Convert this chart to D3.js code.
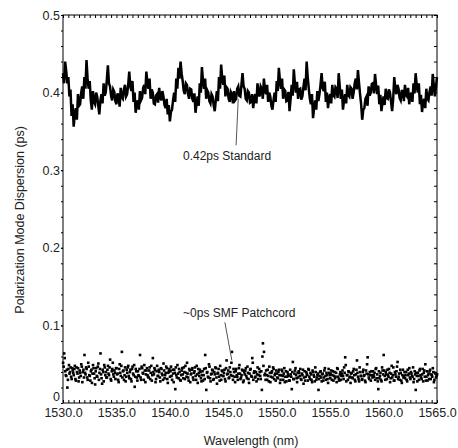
<!DOCTYPE html>
<html>
<head>
<meta charset="utf-8">
<script src="https://cdn.jsdelivr.net/npm/d3@7"></script>
<style>
  body { margin: 0; background: #fff; }
  .svg text { font-family: "Liberation Sans", Arial, sans-serif; fill: #222; }
  .axis path { display: none; }
  .axis line { stroke: #000; }
</style>
</head>
<body>
<div id="chart"></div>
<script>
// wavelength range and tick labels
const xDomain = [1530, 1565]
const yDomain = [0, 0.5]
const xMajorTicks = [1530, 1535, 1540, 1545, 1550, 1555, 1560, 1565]
const yMajorTicks = [0, 0.1, 0.2, 0.3, 0.4, 0.5]

// 0.42ps standard, sampled every 0.1 nm from 1530.0 nm
const standardStart = 1530, standardStep = 0.1
const standardPMD = [
  .425,.412,.440,.428,.412,.420,.395,.404,.370,.385,
  .356,.372,.380,.365,.398,.383,.385,.400,.408,.392,
  .420,.405,.442,.418,.405,.415,.390,.378,.402,.388,
  .385,.400,.395,.383,.372,.390,.398,.386,.412,.396,
  .400,.416,.435,.412,.408,.396,.390,.404,.401,.389,
  .385,.399,.395,.382,.406,.394,.392,.404,.410,.395,
  .398,.410,.427,.408,.402,.415,.388,.400,.374,.386,
  .390,.378,.402,.390,.393,.406,.410,.398,.427,.412,
  .405,.418,.392,.404,.400,.386,.385,.396,.398,.387,
  .406,.394,.390,.402,.395,.384,.380,.392,.372,.384,
  .363,.375,.378,.390,.400,.388,.418,.405,.432,.418,
  .440,.425,.415,.402,.398,.412,.410,.398,.392,.405,
  .404,.392,.388,.399,.374,.386,.395,.383,.412,.400,
  .433,.415,.405,.418,.392,.403,.400,.389,.386,.398,
  .395,.384,.376,.390,.402,.389,.420,.405,.436,.418,
  .410,.422,.395,.407,.405,.392,.388,.401,.398,.386,
  .402,.390,.392,.405,.408,.396,.395,.410,.425,.408,
  .405,.392,.390,.402,.400,.387,.388,.398,.380,.393,
  .398,.386,.412,.399,.395,.408,.405,.392,.418,.404,
  .398,.410,.388,.400,.395,.383,.378,.390,.400,.388,
  .415,.402,.432,.416,.405,.418,.392,.404,.402,.389,
  .390,.401,.376,.392,.410,.396,.430,.412,.400,.414,
  .392,.404,.405,.391,.395,.407,.418,.403,.440,.420,
  .405,.392,.385,.398,.367,.380,.390,.378,.402,.389,
  .398,.410,.425,.406,.402,.414,.388,.400,.380,.392,
  .398,.386,.410,.397,.395,.407,.405,.393,.425,.408,
  .392,.404,.378,.390,.398,.386,.410,.397,.395,.407,
  .405,.392,.400,.412,.418,.404,.429,.413,.398,.385,
  .365,.378,.380,.392,.395,.383,.408,.396,.400,.411,
  .412,.399,.424,.410,.398,.409,.385,.397,.376,.388,
  .395,.384,.405,.393,.392,.404,.400,.388,.376,.392,
  .420,.404,.398,.410,.405,.393,.390,.402,.402,.389,
  .410,.397,.395,.406,.385,.396,.400,.388,.412,.399,
  .425,.410,.400,.412,.385,.397,.375,.388,.392,.380,
  .405,.392,.390,.401,.408,.396,.424,.410,.395,.407,
  .420
]

// ~0ps SMF patchcord, two interleaved sweeps, each sampled every 0.1 nm
const patchStartA = 1530, patchStartB = 1530.05, patchStep = 0.1
const patchPMDA = [
  .052,.064,.041,.035,.020,.044,.038,.046,.031,.042,
  .036,.048,.029,.040,.045,.033,.039,.050,.027,.043,
  .062,.037,.044,.030,.047,.035,.041,.026,.049,.038,
  .024,.045,.034,.051,.039,.064,.032,.043,.028,.046,
  .040,.033,.048,.036,.056,.029,.044,.037,.042,.031,
  .045,.038,.027,.050,.035,.066,.041,.030,.046,.034,
  .039,.048,.032,.043,.028,.047,.036,.021,.044,.033,
  .041,.035,.062,.030,.045,.038,.049,.027,.042,.036,
  .033,.046,.039,.029,.058,.037,.043,.031,.048,.035,
  .040,.028,.044,.036,.051,.032,.039,.045,.026,.041,
  .034,.047,.030,.038,.043,.018,.036,.049,.032,.040,
  .029,.042,.037,.046,.031,.039,.052,.033,.044,.027,
  .038,.045,.030,.041,.035,.048,.026,.039,.043,.032,
  .036,.029,.044,.062,.017,.040,.033,.047,.028,.038,
  .042,.031,.037,.045,.025,.039,.034,.048,.030,.041,
  .035,.043,.028,.055,.038,.032,.046,.036,.066,.030,
  .040,.027,.044,.034,.038,.049,.031,.036,.042,.029,
  .037,.045,.032,.039,.026,.043,.035,.058,.030,.041,
  .034,.028,.046,.036,.040,.031,.017,.077,.066,.038,
  .042,.030,.035,.047,.027,.039,.033,.044,.036,.029,
  .038,.032,.043,.026,.036,.041,.030,.045,.034,.028,
  .040,.035,.029,.037,.018,.053,.031,.042,.036,.027,
  .033,.039,.044,.030,.036,.025,.041,.034,.038,.029,
  .043,.031,.037,.027,.040,.034,.046,.030,.036,.017,
  .035,.041,.028,.038,.033,.045,.030,.036,.026,.039,
  .032,.042,.036,.029,.040,.034,.027,.044,.031,.037,
  .030,.038,.035,.046,.059,.028,.036,.041,.033,.026,
  .039,.032,.044,.030,.037,.055,.034,.028,.040,.035,
  .031,.043,.036,.027,.038,.059,.033,.040,.029,.036,
  .041,.034,.030,.045,.037,.018,.032,.039,.028,.042,
  .062,.035,.040,.031,.036,.044,.027,.038,.033,.046,
  .029,.037,.041,.053,.034,.030,.039,.026,.043,.035,
  .032,.040,.028,.036,.045,.031,.038,.034,.027,.041,
  .017,.035,.039,.030,.044,.033,.037,.028,.042,.050,
  .034,.029,.038,.041,.031,.036,.045,.027,.039,.033,
  .037
]
const patchPMDB = [
  .047,.058,.036,.043,.030,.049,.040,.034,.045,.039,
  .044,.031,.046,.038,.028,.042,.035,.047,.040,.033,
  .039,.046,.033,.052,.036,.029,.043,.038,.045,.032,
  .041,.035,.047,.030,.044,.037,.025,.040,.049,.036,
  .033,.043,.038,.046,.031,.041,.052,.034,.039,.045,
  .037,.030,.044,.039,.048,.033,.042,.036,.028,.043,
  .046,.035,.040,.031,.044,.038,.049,.034,.041,.029,
  .036,.044,.033,.047,.039,.030,.042,.037,.045,.034,
  .042,.031,.048,.036,.040,.045,.027,.041,.035,.043,
  .033,.045,.038,.030,.042,.036,.047,.031,.039,.044,
  .041,.035,.043,.027,.039,.046,.033,.038,.044,.030,
  .036,.045,.032,.040,.048,.034,.038,.029,.042,.037,
  .043,.033,.039,.046,.030,.037,.044,.035,.040,.028,
  .041,.036,.031,.045,.039,.034,.050,.032,.037,.043,
  .030,.040,.046,.033,.038,.044,.029,.036,.042,.035,
  .039,.031,.045,.037,.042,.033,.040,.052,.035,.044,
  .034,.041,.036,.030,.045,.038,.033,.043,.027,.040,
  .042,.035,.047,.031,.038,.044,.034,.052,.039,.033,
  .040,.037,.031,.044,.035,.041,.060,.048,.036,.030,
  .036,.043,.028,.039,.034,.041,.046,.031,.038,.042,
  .033,.040,.036,.030,.043,.035,.038,.027,.041,.034,
  .037,.029,.043,.034,.040,.031,.038,.045,.032,.039,
  .041,.035,.031,.038,.043,.033,.029,.040,.036,.044,
  .034,.039,.030,.042,.036,.028,.040,.033,.038,.031,
  .040,.033,.037,.029,.042,.035,.039,.031,.044,.036,
  .038,.030,.041,.035,.032,.039,.045,.034,.029,.040,
  .035,.042,.031,.039,.049,.036,.030,.040,.034,.038,
  .033,.041,.036,.028,.043,.039,.031,.046,.035,.030,
  .040,.035,.029,.042,.050,.037,.031,.036,.041,.033,
  .036,.039,.044,.032,.028,.041,.035,.030,.046,.037,
  .042,.030,.037,.043,.034,.039,.032,.048,.036,.029,
  .040,.034,.047,.031,.038,.043,.029,.036,.033,.040,
  .036,.030,.043,.038,.033,.040,.035,.046,.031,.037,
  .039,.028,.035,.042,.036,.031,.044,.039,.034,.029,
  .041,.036,.031,.043,.037,.034,.040,.030,.038,.035
]

// annotation labels: text position and leader line ends, in data units
const notes = [
  {label: "0.42ps Standard", tx: 1545.35, ty: 0.318, x1: 1546.4, y1: 0.392, x2: 1546.2, y2: 0.332},
  {label: "~0ps SMF Patchcord", tx: 1546.5, ty: 0.116, x1: 1545.15, y1: 0.104, x2: 1545.8, y2: 0.055}
]

const outerWidth = 458, outerHeight = 448
const margin = {left: 63, right: 21, top: 15, bottom: 45}

const svg = d3.select("#chart").append("svg")
    .attr("width", outerWidth)
    .attr("height", outerHeight)
    .attr("class", "svg");

const xScale = d3.scaleLinear().domain(xDomain).range([margin.left, outerWidth - margin.right]);
const yScale = d3.scaleLinear().domain(yDomain).range([outerHeight - margin.bottom, margin.top]);
const yB = outerHeight - margin.bottom;
const xR = outerWidth - margin.right;

const xMinor = d3.range(xDomain[0], xDomain[1] + 0.001, 0.5);
const yMinor = d3.range(0, 0.5001, 0.02);

// minor ticks, pointing inward on top/bottom/right, outward on left
svg.append("g").attr("class", "axis")
    .attr("transform", "translate(0," + yB + ")")
    .call(d3.axisBottom(xScale).tickValues(xMinor).tickSize(-3).tickFormat(""));
svg.append("g").attr("class", "axis")
    .attr("transform", "translate(0," + margin.top + ")")
    .call(d3.axisTop(xScale).tickValues(xMinor).tickSize(-3).tickFormat(""));
svg.append("g").attr("class", "axis")
    .attr("transform", "translate(" + xR + ",0)")
    .call(d3.axisRight(yScale).tickValues(yMinor).tickSize(-3).tickFormat(""));
svg.append("g").attr("class", "axis")
    .attr("transform", "translate(" + margin.left + ",0)")
    .call(d3.axisLeft(yScale).tickValues(yMinor).tickSize(2).tickFormat(""));

// labelled axes
svg.append("g").attr("class", "axis")
    .attr("transform", "translate(0," + yB + ")")
    .call(d3.axisBottom(xScale).tickValues(xMajorTicks).tickSize(0).tickPadding(5).tickFormat(d3.format(".1f")))
    .selectAll("text").attr("font-size", 12.5);
svg.append("g").attr("class", "axis")
    .attr("transform", "translate(" + margin.left + ",0)")
    .call(d3.axisLeft(yScale).tickValues(yMajorTicks).tickSize(2).tickPadding(1)
        .tickFormat(d => d === 0 ? "0" : d3.format(".1f")(d)))
    .selectAll("text").attr("font-size", 12.5)
    .attr("dy", d => d === 0 ? "-0.2em" : "0.32em");

// frame
svg.append("rect")
    .attr("x", margin.left).attr("y", margin.top)
    .attr("width", xR - margin.left).attr("height", yB - margin.top)
    .attr("fill", "none").attr("stroke", "#000");

// standard trace
const stdLine = d3.line()
    .x((d, i) => xScale(standardStart + i * standardStep))
    .y(d => yScale(d));
svg.append("path")
    .datum(standardPMD)
    .attr("d", stdLine)
    .attr("fill", "none")
    .attr("stroke", "#000")
    .attr("stroke-width", 2.5)
    .attr("stroke-linejoin", "miter");

// patchcord points
const pts = svg.append("g");
[[patchPMDA, patchStartA], [patchPMDB, patchStartB]].forEach(([vals, start]) => {
  pts.append("g").selectAll("rect")
      .data(vals)
      .join("rect")
      .attr("x", (d, i) => xScale(start + i * patchStep) - 1.2)
      .attr("y", d => yScale(d) - 1.2)
      .attr("width", 2.6)
      .attr("height", 2.6)
      .attr("fill", "#000");
});

// annotations
const ann = svg.append("g");
ann.selectAll("line").data(notes).join("line")
    .attr("x1", d => xScale(d.x1)).attr("y1", d => yScale(d.y1))
    .attr("x2", d => xScale(d.x2)).attr("y2", d => yScale(d.y2))
    .attr("stroke", "#555").attr("stroke-width", 1);
ann.selectAll("text").data(notes).join("text")
    .attr("x", d => xScale(d.tx)).attr("y", d => yScale(d.ty))
    .attr("dy", "0.35em")
    .attr("text-anchor", "middle")
    .attr("font-size", 12)
    .text(d => d.label);

// axis titles
svg.append("text")
    .attr("x", (margin.left + xR) / 2 + 1)
    .attr("y", 441)
    .attr("dy", "0.35em")
    .attr("text-anchor", "middle")
    .attr("font-size", 12.5)
    .text("Wavelength (nm)");
svg.append("text")
    .attr("transform", "translate(20," + (yScale(0.236)) + ") rotate(-90)")
    .attr("dy", "0.35em")
    .attr("text-anchor", "middle")
    .attr("font-size", 12.5)
    .text("Polarization Mode Dispersion (ps)");
</script>
</body>
</html>
